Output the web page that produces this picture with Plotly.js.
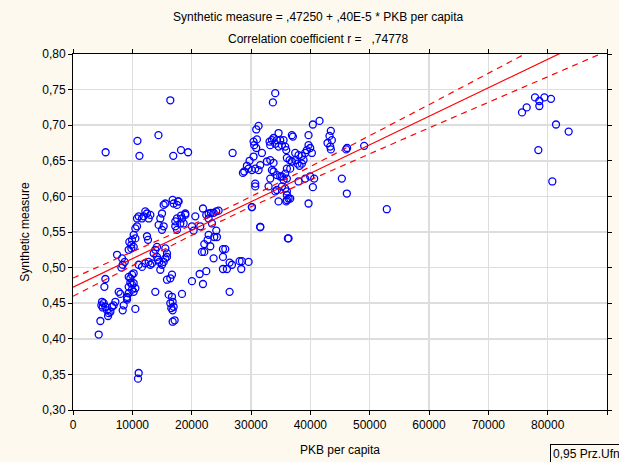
<!DOCTYPE html>
<html>
<head>
<meta charset="utf-8">
<script src="https://cdn.plot.ly/plotly-3.0.1.min.js"></script>
<style>html,body{margin:0;padding:0;background:#fdf9ee;}</style>
</head>
<body>
<div id="chart" style="width:619px;height:462px;"></div>
<script>
// PKB per capita (x) and Synthetic measure (y)
const pkb = [
4333,4614,4895,5175,4782,5007,5456,5736,6017,5905,6298,6578,6859,7140,8543,8375,9104,10508,5456,5288,7701,7982,5500,
7420,8262,8711,8375,8150,9385,9834,10227,9834,9497,9946,10508,10227,10508,10788,9385,9666,9946,10227,9666,9946,10227,9385,10508,9946,10227,9385,9104,9104,
10860,11200,11069,10957,
10788,11069,11630,11911,12191,12472,13033,12753,14998,14717,15279,15559,16794,17692,16963,17524,18927,18366,17524,17243,18647,17243,17524,14436,15279,14998,12472,12640,18085,18198,17804,
14156,13875,13594,14156,14324,14549,14998,14717,15559,15840,15559,15279,15840,11069,11630,12191,12753,13033,13314,16682,16401,15840,20050,
16682,16794,16401,16963,16570,16794,17131,16794,18366,13875,16120,
16400,14400,16900,18200,19400,26900,
18928,21903,20612,22464,22857,23250,23699,24148,24541,20050,20331,21454,23418,22857,22689,23138,24148,24260,23811,22127,21735,22127,23699,25271,25664,25271,26393,26786,28077,28470,29593,28358,25944,25271,22464,21342,21903,26393,30154,31557,36216,22857,
34083,33690,31277,30884,30435,30996,30884,30547,
34645,33803,33522,33129,33242,34084,34364,34926,35487,35206,35768,35936,34645,
36890,37058,39696,40426,41549,
43457,43233,42896,43626,43345,43457,
31838,30435,29762,29313,28864,28639,29593,30155,30716,31277,31558,32680,33242,33803,
37451,38012,38574,39135,39416,39697,39977,40258,
36048,36497,36890,37451,37844,38181,38574,38855,
36610,36048,35768,36048,35487,35206,34926,34364,33803,33522,33242,
30716,30716,32961,34364,34084,35206,35768,36048,36329,36610,36048,34645,
38012,39135,39977,40650,40426,39697,
45310,46152,30155,31558,36329,52887,46039,46200,49070,36047,35935,
77867,78597,79439,80562,78597,76464,75678,81404,83537,78429,80786
];
const synth = [
0.406,0.425,0.452,0.450,0.447,0.444,0.445,0.440,0.436,0.432,0.438,0.445,0.447,0.452,0.447,0.440,0.457,0.442,0.484,0.473,0.466,0.463,0.662,
0.518,0.513,0.508,0.504,0.500,0.525,0.527,0.529,0.532,0.536,0.539,0.541,0.546,0.555,0.558,0.487,0.485,0.490,0.492,0.479,0.476,0.478,0.473,0.471,0.469,0.466,0.464,0.459,0.455,
0.678,0.657,0.352,0.344,
0.569,0.572,0.569,0.572,0.579,0.576,0.574,0.569,0.576,0.569,0.588,0.590,0.595,0.593,0.590,0.588,0.576,0.569,0.569,0.565,0.562,0.558,0.553,0.560,0.558,0.553,0.544,0.539,0.562,0.573,0.593,
0.529,0.525,0.520,0.515,0.511,0.508,0.504,0.497,0.527,0.520,0.513,0.508,0.515,0.504,0.501,0.506,0.508,0.504,0.506,0.490,0.485,0.483,0.481,
0.459,0.452,0.450,0.445,0.443,0.440,0.426,0.424,0.463,0.466,0.462,
0.735,0.686,0.657,0.665,0.662,0.661,
0.574,0.583,0.572,0.574,0.576,0.577,0.577,0.579,0.580,0.558,0.552,0.558,0.562,0.546,0.539,0.530,0.552,0.543,0.543,0.533,0.522,0.522,0.513,0.526,0.526,0.515,0.507,0.504,0.509,0.509,0.508,0.498,0.498,0.498,0.495,0.491,0.477,0.466,0.585,0.557,0.541,0.569,
0.745,0.732,0.699,0.694,0.677,0.680,0.668,0.672,
0.689,0.682,0.679,0.677,0.672,0.674,0.679,0.679,0.679,0.672,0.670,0.665,0.670,
0.686,0.684,0.686,0.701,0.706,
0.692,0.685,0.675,0.679,0.670,0.666,
0.661,0.656,0.650,0.643,0.635,0.633,0.639,0.637,0.639,0.637,0.644,0.649,0.651,0.647,
0.661,0.658,0.657,0.661,0.665,0.672,0.668,0.661,
0.654,0.651,0.649,0.651,0.646,0.643,0.646,0.651,
0.639,0.639,0.632,0.625,0.623,0.628,0.628,0.630,0.635,0.637,0.625,
0.618,0.614,0.614,0.609,0.607,0.614,0.611,0.607,0.597,0.597,0.595,0.593,
0.621,0.625,0.628,0.625,0.613,0.590,
0.625,0.604,0.585,0.557,0.541,0.582,0.666,0.668,0.671,0.602,0.593,
0.739,0.734,0.739,0.737,0.727,0.725,0.718,0.701,0.691,0.665,0.621
];
// Regression equation from the title
const intercept = 0.47250;
const slope = 0.40e-5;
const xTicks = [0,10000,20000,30000,40000,50000,60000,70000,80000,90000];
const yTicks = [0.30,0.35,0.40,0.45,0.50,0.55,0.60,0.65,0.70,0.75,0.80];

// 95% confidence band around the line, computed from the data
const n = pkb.length;
const xm = pkb.reduce((a,b)=>a+b,0)/n;
let sxx = 0, sse = 0;
for (let i=0;i<n;i++){ sxx += (pkb[i]-xm)**2; sse += (synth[i]-(intercept+slope*pkb[i]))**2; }
const s = Math.sqrt(sse/(n-2));
const tval = 1.97;
const lx = [], ly = [], up = [], lo = [];
for (let k=0;k<=180;k++){
  const x = 90000*k/180;
  const yhat = intercept + slope*x;
  const h = tval*s*Math.sqrt(1/n + (x-xm)**2/sxx);
  lx.push(x); ly.push(yhat); up.push(yhat+h); lo.push(yhat-h);
}

const font = {family:'Liberation Sans, Arial, sans-serif', size:12, color:'#000'};
const traces = [
  {x:pkb, y:synth, type:'scatter', mode:'markers', showlegend:false, cliponaxis:true,
   marker:{symbol:'circle-open', size:7, color:'#0000ff', line:{width:1.3, color:'#0000ff'}}},
  {x:lx, y:ly, type:'scatter', mode:'lines', showlegend:false, line:{color:'#ff0000', width:1.2}},
  {x:lx, y:up, type:'scatter', mode:'lines', showlegend:false, line:{color:'#ff0000', width:1.2, dash:'6px,5px'}},
  {x:lx, y:lo, type:'scatter', mode:'lines', showlegend:false, line:{color:'#ff0000', width:1.2, dash:'6px,5px'}}
];
const layout = {
  width:619, height:462,
  paper_bgcolor:'#fdf9ee', plot_bgcolor:'#ffffff',
  margin:{l:73, r:12, t:54, b:52},
  font:font,
  separators:',.',
  showlegend:false,
  xaxis:{range:[0,90000], tickvals:xTicks, tickformat:'d', showgrid:true, gridcolor:'#dddddd', gridwidth:1.5,
    zeroline:false, showline:true, linecolor:'#000', linewidth:1, mirror:'allticks', ticks:'outside', ticklen:4, tickcolor:'#000',
    title:{text:'PKB per capita', font:font, standoff:14}},
  yaxis:{range:[0.30,0.80], tickvals:yTicks, tickformat:'.2f', showgrid:true, gridcolor:'#dddddd', gridwidth:1.5,
    zeroline:false, showline:true, linecolor:'#000', linewidth:1, mirror:'allticks', ticks:'outside', ticklen:4, tickcolor:'#000',
    title:{text:'Synthetic measure', font:font, standoff:10}},
  annotations:[
    {text:'Synthetic measure = ,47250 + ,40E-5 * PKB per capita', xref:'paper', yref:'paper', x:0.46, y:1, yshift:37, xanchor:'center', yanchor:'middle', showarrow:false, font:font},
    {text:'Correlation coefficient r =   ,74778', xref:'paper', yref:'paper', x:0.46, y:1, yshift:15, xanchor:'center', yanchor:'middle', showarrow:false, font:font},
    {text:'0,95 Prz.Ufn.', xref:'paper', yref:'paper', x:0.894, y:0, yshift:-44, xanchor:'left', yanchor:'middle', showarrow:false, font:font,
     bordercolor:'#000', borderwidth:1, borderpad:2, bgcolor:'#fdf9ee'}
  ]
};
Plotly.newPlot('chart', traces, layout, {displayModeBar:false, staticPlot:true});
</script>
</body>
</html>
